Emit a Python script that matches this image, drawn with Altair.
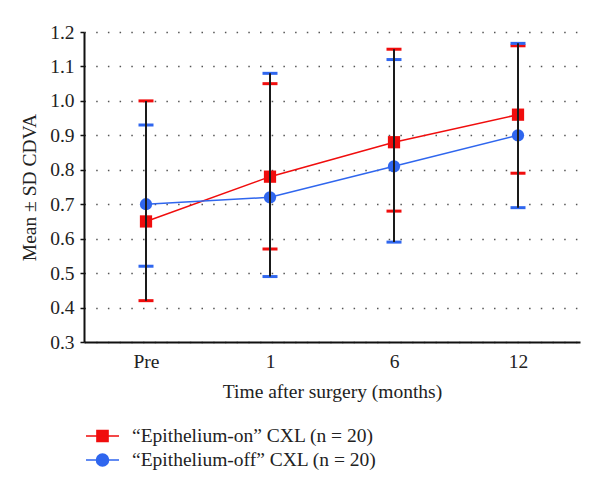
import altair as alt
import pandas as pd

times = ["Pre", "1", "6", "12"]
series_names = ["\u201cEpithelium-on\u201d CXL (n = 20)", "\u201cEpithelium-off\u201d CXL (n = 20)"]
on_mean = [0.65, 0.78, 0.88, 0.96]
on_low = [0.42, 0.57, 0.68, 0.79]
on_high = [1.00, 1.05, 1.15, 1.16]
off_mean = [0.70, 0.72, 0.81, 0.90]
off_low = [0.52, 0.49, 0.59, 0.69]
off_high = [0.93, 1.08, 1.12, 1.167]
colors = ["#f00d0d", "#2f66ee"]
y_ticks = [0.3, 0.4, 0.5, 0.6, 0.7, 0.8, 0.9, 1.0, 1.1, 1.2]

rows = []
for s, m, lo, hi in [(series_names[0], on_mean, on_low, on_high),
                     (series_names[1], off_mean, off_low, off_high)]:
    for t, a, b, c in zip(times, m, lo, hi):
        rows.append({"time": t, "series": s, "mean": a, "low": b, "high": c})
df = pd.DataFrame(rows)

FONT = "Liberation Serif"
FS = 19.5

x_axis = alt.Axis(title="Time after surgery (months)", labelAngle=0,
                  ticks=False, grid=False, labelPadding=10,
                  titlePadding=12, domainColor="#111", domainWidth=2,
                  labelOverlap=False)
x_scale = alt.Scale(type="point", padding=0.5)
y_scale = alt.Scale(domain=[0.3, 1.2], nice=False, zero=False)
y_axis = alt.Axis(title="Mean \u00b1 SD CDVA", values=y_ticks, tickCount=20, format=".1f",
                  grid=True, gridDash=[1.5, 10.2], gridColor="#555", gridWidth=1.3,
                  tickSize=4, tickColor="#111", tickWidth=1.5,
                  domainColor="#111", domainWidth=2, labelPadding=6, titlePadding=10,
                  labelOverlap=False)

def X():
    return alt.X("time:N", sort=times, scale=x_scale, axis=x_axis)

def Y(field):
    return alt.Y(field, scale=y_scale, axis=y_axis)

sq_path = "M-1.375,0H1.375M-0.46,-0.46H0.46V0.46H-0.46Z"
ci_path = "M-1.375,0H1.375M0.5,0A0.5,0.5 0 1,1 -0.5,0A0.5,0.5 0 1,1 0.5,0Z"

leg = alt.Legend(title=None, orient="none", legendX=5.5, legendY=391,
                 symbolSize=576, symbolOpacity=1, symbolStrokeWidth=1.6, padding=0,
                 labelOffset=16.5, rowPadding=1,
                 labelFont=FONT, labelFontSize=FS, labelColor="#222", labelLimit=500)

color_scale = alt.Scale(domain=series_names, range=colors)

base = alt.Chart(df)

lines = base.mark_line(strokeWidth=1.5).encode(
    x=X(), y=Y("mean:Q"),
    color=alt.Color("series:N", scale=color_scale, legend=leg))

squares = base.transform_filter(alt.datum.series == series_names[0]).mark_square(
    size=150, opacity=1).encode(
    x=X(), y=Y("mean:Q"),
    color=alt.Color("series:N", scale=color_scale, legend=leg))

circles = base.transform_filter(alt.datum.series == series_names[1]).mark_circle(
    size=150, opacity=1).encode(
    x=X(), y=Y("mean:Q"),
    color=alt.Color("series:N", scale=color_scale, legend=leg))

caps_low = base.mark_tick(thickness=3, size=15, opacity=1).encode(
    x=X(), y=Y("low:Q"),
    color=alt.Color("series:N", scale=color_scale, legend=leg))
caps_high = base.mark_tick(thickness=3, size=15, opacity=1).encode(
    x=X(), y=Y("high:Q"),
    color=alt.Color("series:N", scale=color_scale, legend=leg))

rules = base.mark_rule(color="#1a1a1a", strokeWidth=2).encode(
    x=X(), y=Y("low:Q"), y2="high:Q")

legend_layer = base.mark_point(filled=True, strokeWidth=1.6, opacity=0).encode(
    x=X(), y=Y("mean:Q"),
    fill=alt.Fill("series:N", scale=alt.Scale(domain=series_names, range=colors), legend=leg),
    stroke=alt.Stroke("series:N", scale=alt.Scale(domain=series_names, range=colors), legend=leg),
    shape=alt.Shape("series:N", scale=alt.Scale(domain=series_names, range=[sq_path, ci_path]), legend=leg))

chart = alt.layer(lines, squares, circles, caps_low, caps_high, rules, legend_layer).properties(
    width=496, height=310,
    autosize=alt.AutoSizeParams(type="none"),
    padding={"left": 76, "top": 24, "right": 12, "bottom": 142},
).configure_view(stroke=None).configure_axis(
    labelFont=FONT, titleFont=FONT, labelFontSize=FS, titleFontSize=FS,
    labelColor="#222", titleColor="#222", titleFontWeight="normal"
)

chart.save("out.html", embed_options={"renderer": "svg", "actions": False})
